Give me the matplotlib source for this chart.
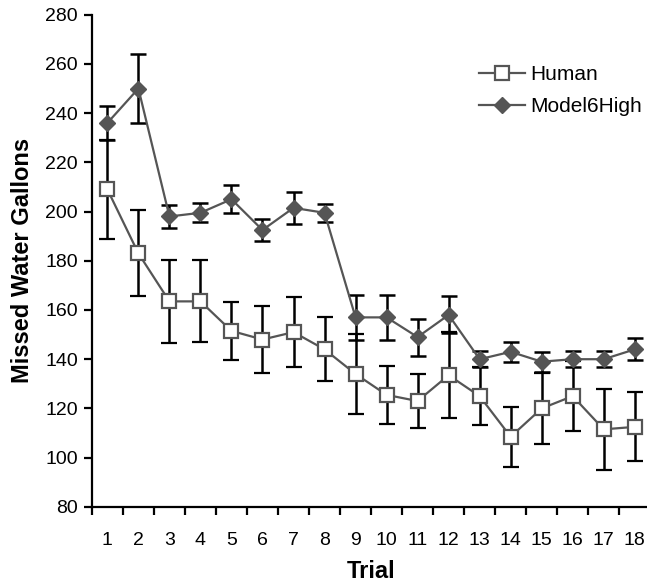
import numpy as np
import matplotlib.pyplot as plt

plt.rcParams["font.family"] = ["Liberation Sans", "DejaVu Sans"]

trials = list(range(1, 19))
human = [209, 183, 163.5, 163.5, 151.5, 148, 151, 144, 134, 125.5, 123, 133.5, 125, 108.5, 120, 125, 111.5, 112.5]
human_err = [20, 17.5, 17, 16.7, 11.8, 13.5, 14.3, 13, 16.3, 11.7, 10.8, 17.5, 11.7, 12.2, 14.5, 14.3, 16.5, 14]
model = [236, 250, 198, 199.5, 205, 192.5, 201.5, 199.5, 157, 157, 149, 158, 140, 143, 139, 140, 140, 144]
model_err = [7, 14, 4.5, 3.8, 5.6, 4.3, 6.5, 3.7, 9, 9, 7.5, 7.5, 3.3, 4, 4, 3.2, 3.2, 4.5]

fig = plt.figure(figsize=(6.47, 5.88), dpi=100)
ax = fig.add_axes([0.142, 0.138, 0.863, 0.837])

ax.errorbar(trials, human, yerr=human_err, color="#555555", ecolor="black",
            elinewidth=1.8, capsize=6, capthick=1.8, lw=1.6,
            marker="s", markersize=10, markerfacecolor="white",
            markeredgecolor="#555555", markeredgewidth=1.6, label="Human", zorder=3)
ax.errorbar(trials, model, yerr=model_err, color="#555555", ecolor="black",
            elinewidth=1.8, capsize=6, capthick=1.8, lw=1.6,
            marker="D", markersize=8, markerfacecolor="#555555",
            markeredgecolor="#555555", label="Model6High", zorder=3)

ax.set_xlim(0.5, 18.5)
ax.set_ylim(80, 280)
ax.set_yticks(np.arange(80, 281, 20))
ax.set_xticks(trials)
ax.set_xticks(np.arange(0.5, 18.6, 1), minor=True)
ax.tick_params(axis="x", which="major", length=0, labelsize=14, pad=18)
ax.tick_params(axis="x", which="minor", length=6, width=1.6, direction="out")
ax.tick_params(axis="y", length=6, width=1.6, labelsize=14, pad=4)

for s in ["top", "right"]:
    ax.spines[s].set_visible(False)
for s in ["left", "bottom"]:
    ax.spines[s].set_linewidth(1.6)

ax.set_xlabel("Trial", fontsize=17, fontweight="bold", labelpad=8)
ax.set_ylabel("Missed Water Gallons", fontsize=17, fontweight="bold", labelpad=8)

handles, labels = ax.get_legend_handles_labels()
handles = [h[0] for h in handles]
ax.legend(handles, labels, loc="upper left", bbox_to_anchor=(0.66, 0.935),
          frameon=False, fontsize=15, handlelength=2.2, handletextpad=0.25,
          labelspacing=0.6)

fig.savefig("out.png", dpi=100)
